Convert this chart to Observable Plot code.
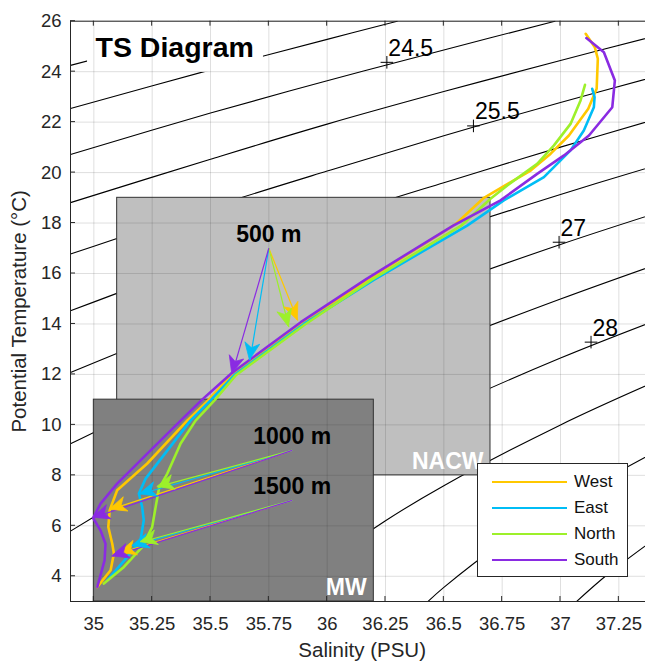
<!DOCTYPE html>
<html><head><meta charset="utf-8">
<script src="https://cdn.jsdelivr.net/npm/d3@7"></script>
<script src="https://cdn.jsdelivr.net/npm/@observablehq/plot@0.6"></script>
<style>
html,body{margin:0;padding:0;background:#fff;}
#wrap{position:relative;width:645px;height:662px;overflow:hidden;font-family:"Liberation Sans",Arial,Helvetica,sans-serif;}
#wrap svg{overflow:hidden;display:block;}
#legend{position:absolute;left:477px;top:463px;width:151px;height:114px;box-sizing:border-box;border:1px solid #262626;background:#fff;}
.lrow{position:absolute;left:0;width:150px;height:26px;}
.lsw{position:absolute;left:14px;width:75px;top:11.5px;height:0;border-top:2.5px solid;}
.ltx{position:absolute;left:96px;top:2px;font-size:17px;line-height:20px;color:#111;}
</style></head><body><div id="wrap"></div>
<script>
// ---- data ----
const seriesNames = ["West", "East", "North", "South"];
const seriesColors = ["#FFC800", "#00BDF5", "#9DF02A", "#8A2BE2"];

const xTicks = [35, 35.25, 35.5, 35.75, 36, 36.25, 36.5, 36.75, 37, 37.25];
const yTicks = [4, 6, 8, 10, 12, 14, 16, 18, 20, 22, 24, 26];

// TS profiles [salinity, potential temperature]
const westProfile = [[37.108,25.50],[37.147,24.97],[37.160,24.51],[37.155,23.32],[37.119,22.53],[37.036,21.47],[36.958,20.75],[36.872,20.08],[36.672,19.00],[36.55,17.95],[36.18,15.80],[35.895,14.05],[35.595,12.02],[35.49,10.97],[35.40,10.17],[35.229,8.47],[35.10,7.41],[35.068,6.62],[35.062,5.95],[35.079,5.29],[35.086,4.90],[35.072,4.24],[35.015,3.58]];
const eastProfile = [[37.136,23.32],[37.146,22.99],[37.143,22.59],[37.100,21.67],[37.043,20.88],[36.929,19.82],[36.757,18.90],[36.60,17.90],[36.20,15.75],[35.90,14.00],[35.605,12.00],[35.50,10.97],[35.414,10.17],[35.222,7.87],[35.193,7.28],[35.207,6.75],[35.214,6.22],[35.200,5.43],[35.143,4.76],[35.057,3.84]];
const northProfile = [[37.105,23.48],[37.086,22.86],[37.043,21.93],[36.972,21.08],[36.900,20.35],[36.772,19.49],[36.70,18.96],[36.575,17.90],[36.19,15.75],[35.905,13.98],[35.61,11.98],[35.517,10.97],[35.436,10.17],[35.372,9.26],[35.315,8.07],[35.279,7.47],[35.265,6.75],[35.25,5.95],[35.207,5.16],[35.129,4.37],[35.043,3.71]];
const southProfile = [[37.111,25.33],[37.186,24.77],[37.233,23.65],[37.222,22.59],[37.122,21.47],[37.015,20.68],[36.900,19.95],[36.743,18.90],[36.54,17.90],[36.169,15.79],[35.887,14.07],[35.588,12.03],[35.464,11.00],[35.372,10.17],[35.229,8.86],[35.100,7.67],[35.029,6.88],[34.997,6.31],[35.029,5.81],[35.050,5.29],[35.046,4.63],[35.015,3.58]];

// isopycnals (sigma-theta)
const isoLevels = [23.5, 24.0, 24.5, 25.0, 25.5, 26.0, 26.5, 27.0, 27.5, 28.0, 28.5, 29.0, 29.5];
const isoPoints = [
  [[34.9,24.25],[35.3,25.22],[35.62,26.0]],
  [[34.9,22.54],[35.5,24.07],[36.0,25.28],[36.3,26.0]],
  [[34.9,20.72],[35.5,22.36],[36.0,23.64],[36.5,24.86],[36.976,26.0]],
  [[34.9,18.81],[35.5,20.53],[36.0,21.92],[36.5,23.21],[37.0,24.44],[37.4,25.40]],
  [[34.9,16.77],[35.5,18.62],[36.0,20.06],[36.5,21.46],[37.0,22.78],[37.4,23.79]],
  [[34.9,14.52],[35.5,16.58],[36.0,18.15],[36.5,19.60],[37.0,21.01],[37.4,22.09]],
  [[34.9,12.08],[35.5,14.33],[36.0,16.06],[36.5,17.65],[37.0,19.13],[37.4,20.26]],
  [[34.9,9.25],[35.5,11.88],[36.0,13.78],[36.5,15.52],[37.0,17.15],[37.4,18.36]],
  [[34.9,5.79],[35.5,9.03],[36.0,11.25],[36.5,13.22],[37.0,14.99],[37.4,16.32]],
  [[35.154,3.0],[35.3,4.16],[35.5,5.53],[36.0,8.32],[36.5,10.62],[37.0,12.65],[37.4,14.11]],
  [[35.795,3.0],[35.9,3.88],[36.0,4.59],[36.25,6.20],[36.5,7.59],[37.0,10.0],[37.4,11.69]],
  [[36.432,3.0],[36.5,3.56],[36.75,5.34],[37.0,6.84],[37.4,8.90]],
  [[37.069,3.0],[37.2,4.06],[37.4,5.45]]
];
const isoLabelText = ["24.5", "25.5", "27", "28"];
const isoLabelS = [36.258, 36.629, 36.996, 37.133];
const isoLabelT = [24.35, 21.83, 17.22, 13.26];

// water-mass boxes
const boxNames = ["NACW", "MW"];
const boxS0 = [35.1, 35.0], boxS1 = [36.7, 36.2];
const boxT0 = [8, 3], boxT1 = [19, 11];
const boxLabelS = [36.67, 36.169], boxLabelT = [8.54, 3.54];

// depth arrows
const depthNames = ["500 m", "1000 m", "1500 m"];
const arrowStartS = [35.75, 35.85, 35.85];
const arrowStartT = [17.0, 8.99, 7.01];
const arrowTipS = [[35.874, 35.669, 35.836, 35.593], [35.069, 35.197, 35.272, 34.997], [35.11, 35.165, 35.2, 35.079]];
const arrowTipT = [[14.14, 12.56, 13.88, 12.03], [6.64, 7.25, 7.54, 6.32], [4.92, 5.2, 5.35, 4.79]];

const titleText = "TS Diagram";
const xLabel = "Salinity (PSU)";
const yLabel = "Potential Temperature (°C)";

// ---- build tables ----
const profiles = [westProfile, eastProfile, northProfile, southProfile];
const profileRows = seriesNames.flatMap((name, i) => profiles[i].map(([S, T]) => ({name, S, T})));
const isoRows = isoLevels.flatMap((level, i) => isoPoints[i].map(([S, T]) => ({level, S, T})));
const isoLabels = isoLabelText.map((text, i) => ({text, S: isoLabelS[i], T: isoLabelT[i]}));
const boxes = boxNames.map((name, i) => ({name, s0: boxS0[i], s1: boxS1[i], t0: boxT0[i], t1: boxT1[i], ls: boxLabelS[i], lt: boxLabelT[i]}));
const arrows = depthNames.flatMap((depth, d) => seriesNames.map((name, i) => ({
  depth, name, color: seriesColors[i], s0: arrowStartS[d], t0: arrowStartT[d], s1: arrowTipS[d][i], t1: arrowTipT[d][i]
})));
const depthLabels = depthNames.map((text, d) => ({text, S: arrowStartS[d], T: arrowStartT[d]}));

const FONT = '"Liberation Sans", Arial, Helvetica, sans-serif';
const AX = "#262626";

function innerTicks(index, scales, values, dims) {
  const g = d3.create("svg:g");
  const x0 = dims.marginLeft, x1 = dims.width - dims.marginRight;
  const y0 = dims.height - dims.marginBottom, y1 = dims.marginTop;
  let p = "";
  for (const t of xTicks) { const xx = scales.x(t); p += `M${xx},${y0}v-5M${xx},${y1}v5`; }
  for (const t of yTicks) { const yy = scales.y(t); p += `M${x0},${yy}h5M${x1},${yy}h-5`; }
  g.append("path").attr("d", p).attr("stroke", AX).attr("fill", "none").attr("stroke-width", 1);
  return g.node();
}

function isoPlus(index, scales) {
  const g = d3.create("svg:g");
  let p = "";
  for (const d of isoLabels) {
    const xx = scales.x(d.S), yy = scales.y(d.T);
    p += `M${xx - 6.3},${yy}h12.6M${xx},${yy - 6.3}v12.6`;
  }
  g.append("path").attr("d", p).attr("stroke", "black").attr("fill", "none").attr("stroke-width", 1);
  return g.node();
}

function arrowHeads(index, scales) {
  const g = d3.create("svg:g");
  for (const a of arrows) {
    const x1 = scales.x(a.s0), y1 = scales.y(a.t0), x2 = scales.x(a.s1), y2 = scales.y(a.t1);
    const dx = x2 - x1, dy = y2 - y1, len = Math.hypot(dx, dy);
    const ux = dx / len, uy = dy / len, nx = -uy, ny = ux;
    const L = 17, W = 15, N = 0.72 * L;
    const pts = [[x2, y2], [x2 - L * ux + W / 2 * nx, y2 - L * uy + W / 2 * ny], [x2 - N * ux, y2 - N * uy], [x2 - L * ux - W / 2 * nx, y2 - L * uy - W / 2 * ny]];
    g.append("path").attr("d", "M" + pts.map(p => p.join(",")).join("L") + "Z").attr("fill", a.color).attr("stroke", a.color).attr("stroke-width", 0.8).attr("stroke-linejoin", "miter");
  }
  return g.node();
}

const chart = Plot.plot({
  width: 645, height: 662,
  marginLeft: 70, marginRight: -8.33, marginTop: 20.7, marginBottom: 61,
  x: {domain: [34.9, 37.4]},
  y: {domain: [3, 26]},
  color: {domain: seriesNames, range: seriesColors},
  style: {fontFamily: FONT, fontSize: "18.5px", background: "#fff", overflow: "hidden", color: AX},
  marks: [
    Plot.line(isoRows, {x: "S", y: "T", z: "level", stroke: "black", strokeWidth: 1.1, curve: "catmull-rom", clip: true}),
    isoPlus,
    Plot.text(isoLabels, {x: "S", y: "T", text: "text", textAnchor: "start", lineAnchor: "middle", dx: 1, dy: -14.5, fontSize: 23, fill: "black"}),
    Plot.rect([0], {x1: () => 34.973, x2: () => 35.727, y1: () => 23.97, y2: () => 26, fill: "white", clip: true}),
    Plot.rect(boxes, {x1: "s0", x2: "s1", y1: "t0", y2: "t1", fill: (d) => d.name === "MW" ? "#808080" : "#BFBFBF", stroke: "#333", strokeWidth: 1}),
    Plot.text(boxes, {x: "ls", y: "lt", text: "name", textAnchor: "end", lineAnchor: "middle", fontSize: 23, fontWeight: "bold", fill: "white"}),
    Plot.gridX(xTicks, {stroke: AX, strokeOpacity: 0.15}),
    Plot.gridY(yTicks, {stroke: AX, strokeOpacity: 0.15}),
    Plot.line(profileRows, {x: "S", y: "T", z: "name", stroke: "name", strokeWidth: 2.6, strokeLinejoin: "round"}),
    Plot.link(arrows, {x1: "s0", y1: "t0", x2: "s1", y2: "t1", stroke: "name", strokeWidth: 1.2}),
    arrowHeads,
    Plot.text(depthLabels, {x: "S", y: "T", text: "text", textAnchor: "middle", lineAnchor: "middle", dy: -14, fontSize: 23, fontWeight: "bold", fill: "black"}),
    Plot.text([titleText], {frameAnchor: "top-left", dx: 25, dy: 26.5, textAnchor: "start", lineAnchor: "middle", fontSize: 28.5, fontWeight: "bold", fill: "black"}),
    Plot.frame({stroke: AX, strokeWidth: 1}),
    innerTicks,
    Plot.axisX(xTicks, {anchor: "bottom", tickSize: 0, tickPadding: 15.5, tickFormat: (d) => String(d), label: null, fontSize: 18.5, fill: AX}),
    Plot.axisY(yTicks, {anchor: "left", tickSize: 0, tickPadding: 9, tickFormat: (d) => String(d), label: null, fontSize: 18.5, fill: AX}),
    Plot.text([xLabel], {frameAnchor: "bottom", dy: 49, lineAnchor: "middle", textAnchor: "middle", fontSize: 20.5, fill: AX}),
    Plot.text([yLabel], {frameAnchor: "left", dx: -51.5, rotate: -90, lineAnchor: "middle", textAnchor: "middle", fontSize: 20.5, fill: AX})
  ]
});

const wrap = document.getElementById("wrap");
wrap.appendChild(chart);

// legend overlay (inside the axes, as in the original)
const legend = document.createElement("div");
legend.id = "legend";
seriesNames.forEach((name, i) => {
  const row = document.createElement("div");
  row.className = "lrow";
  row.style.top = (5.5 + i * 26) + "px";
  const sw = document.createElement("div");
  sw.className = "lsw";
  sw.style.borderTopColor = seriesColors[i];
  const tx = document.createElement("div");
  tx.className = "ltx";
  tx.textContent = name;
  row.appendChild(sw); row.appendChild(tx);
  legend.appendChild(row);
});
wrap.appendChild(legend);
</script></body></html>
